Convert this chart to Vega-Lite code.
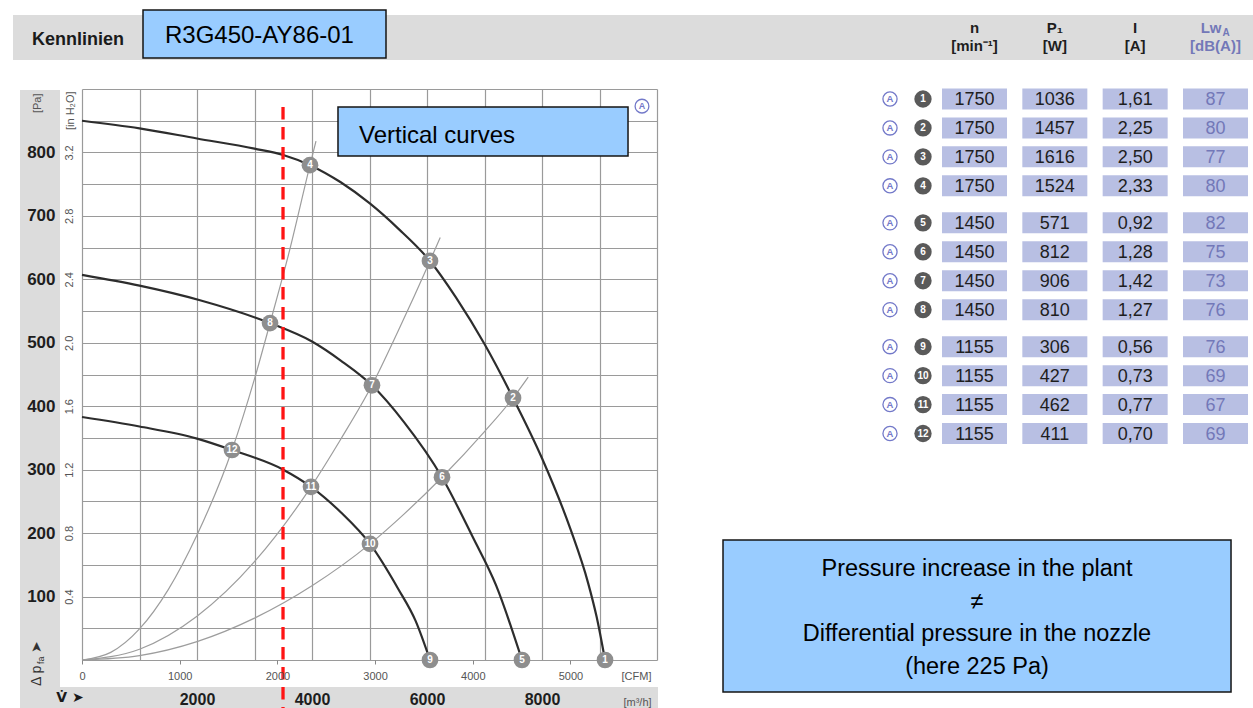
{
  "$schema": "https://vega.github.io/schema/vega-lite/v6.json",
  "width": 575,
  "height": 571,
  "autosize": {"type": "none"},
  "padding": {"left": 82, "top": 89, "right": 596, "bottom": 48},
  "background": "#ffffff",
  "config": {
    "view": {"stroke": null},
    "font": "Liberation Sans",
    "axis": {"labelFont": "Liberation Sans", "titleFont": "Liberation Sans", "labelFlush": false, "labelOverlap": false},
    "text": {"font": "Liberation Sans"}
  },
  "datasets": {
    "fan": [
      {"rpm": 1750, "q": 0, "pa": 850}, {"rpm": 1750, "q": 1000, "pa": 838}, {"rpm": 1750, "q": 2000, "pa": 822},
      {"rpm": 1750, "q": 3000, "pa": 806}, {"rpm": 1750, "q": 3500, "pa": 796}, {"rpm": 1750, "q": 3965, "pa": 780},
      {"rpm": 1750, "q": 4500, "pa": 753}, {"rpm": 1750, "q": 5000, "pa": 720}, {"rpm": 1750, "q": 5500, "pa": 680},
      {"rpm": 1750, "q": 6052, "pa": 629}, {"rpm": 1750, "q": 6500, "pa": 572}, {"rpm": 1750, "q": 7000, "pa": 498},
      {"rpm": 1750, "q": 7496, "pa": 413}, {"rpm": 1750, "q": 8000, "pa": 318}, {"rpm": 1750, "q": 8500, "pa": 205},
      {"rpm": 1750, "q": 8800, "pa": 122}, {"rpm": 1750, "q": 8950, "pa": 68}, {"rpm": 1750, "q": 9096, "pa": 0},
      {"rpm": 1450, "q": 0, "pa": 607}, {"rpm": 1450, "q": 1000, "pa": 590}, {"rpm": 1450, "q": 2052, "pa": 567},
      {"rpm": 1450, "q": 3270, "pa": 531}, {"rpm": 1450, "q": 4000, "pa": 502}, {"rpm": 1450, "q": 4500, "pa": 472},
      {"rpm": 1450, "q": 5043, "pa": 433}, {"rpm": 1450, "q": 5600, "pa": 375}, {"rpm": 1450, "q": 6261, "pa": 288},
      {"rpm": 1450, "q": 6800, "pa": 193}, {"rpm": 1450, "q": 7200, "pa": 118}, {"rpm": 1450, "q": 7652, "pa": 0},
      {"rpm": 1155, "q": 0, "pa": 383}, {"rpm": 1155, "q": 1000, "pa": 368}, {"rpm": 1155, "q": 2000, "pa": 349},
      {"rpm": 1155, "q": 2609, "pa": 331}, {"rpm": 1155, "q": 3500, "pa": 300}, {"rpm": 1155, "q": 3983, "pa": 273},
      {"rpm": 1155, "q": 4500, "pa": 233}, {"rpm": 1155, "q": 5009, "pa": 183}, {"rpm": 1155, "q": 5500, "pa": 112},
      {"rpm": 1155, "q": 5800, "pa": 62}, {"rpm": 1155, "q": 6052, "pa": 0}
    ],
    "system": [
      {"curve": "A", "q": 0, "pa": 0}, {"curve": "A", "q": 500, "pa": 12}, {"curve": "A", "q": 1000, "pa": 49},
      {"curve": "A", "q": 1500, "pa": 111}, {"curve": "A", "q": 2000, "pa": 197}, {"curve": "A", "q": 2609, "pa": 331},
      {"curve": "A", "q": 3000, "pa": 443}, {"curve": "A", "q": 3270, "pa": 531}, {"curve": "A", "q": 3600, "pa": 642},
      {"curve": "A", "q": 3965, "pa": 780}, {"curve": "A", "q": 4070, "pa": 818},
      {"curve": "B", "q": 0, "pa": 0}, {"curve": "B", "q": 1000, "pa": 17}, {"curve": "B", "q": 2000, "pa": 69},
      {"curve": "B", "q": 3000, "pa": 155}, {"curve": "B", "q": 3983, "pa": 273}, {"curve": "B", "q": 4500, "pa": 348},
      {"curve": "B", "q": 5043, "pa": 433}, {"curve": "B", "q": 5500, "pa": 519}, {"curve": "B", "q": 6052, "pa": 629},
      {"curve": "B", "q": 6230, "pa": 666},
      {"curve": "C", "q": 0, "pa": 0}, {"curve": "C", "q": 1000, "pa": 7}, {"curve": "C", "q": 2000, "pa": 29},
      {"curve": "C", "q": 3000, "pa": 66}, {"curve": "C", "q": 4000, "pa": 117}, {"curve": "C", "q": 5009, "pa": 183},
      {"curve": "C", "q": 5600, "pa": 230}, {"curve": "C", "q": 6261, "pa": 288}, {"curve": "C", "q": 7000, "pa": 360},
      {"curve": "C", "q": 7496, "pa": 413}, {"curve": "C", "q": 7760, "pa": 446}
    ],
    "points": [
      {"pt": 1, "q": 9096, "pa": 0}, {"pt": 2, "q": 7496, "pa": 413}, {"pt": 3, "q": 6052, "pa": 629},
      {"pt": 4, "q": 3965, "pa": 780}, {"pt": 5, "q": 7652, "pa": 0}, {"pt": 6, "q": 6261, "pa": 288},
      {"pt": 7, "q": 5043, "pa": 433}, {"pt": 8, "q": 3270, "pa": 531}, {"pt": 9, "q": 6052, "pa": 0},
      {"pt": 10, "q": 5009, "pa": 183}, {"pt": 11, "q": 3983, "pa": 273}, {"pt": 12, "q": 2609, "pa": 331}
    ],
    "table": [
      {"pt": 1, "grp": 1, "n": "1750", "P1": "1036", "I": "1,61", "LwA": "87"},
      {"pt": 2, "grp": 1, "n": "1750", "P1": "1457", "I": "2,25", "LwA": "80"},
      {"pt": 3, "grp": 1, "n": "1750", "P1": "1616", "I": "2,50", "LwA": "77"},
      {"pt": 4, "grp": 1, "n": "1750", "P1": "1524", "I": "2,33", "LwA": "80"},
      {"pt": 5, "grp": 2, "n": "1450", "P1": "571", "I": "0,92", "LwA": "82"},
      {"pt": 6, "grp": 2, "n": "1450", "P1": "812", "I": "1,28", "LwA": "75"},
      {"pt": 7, "grp": 2, "n": "1450", "P1": "906", "I": "1,42", "LwA": "73"},
      {"pt": 8, "grp": 2, "n": "1450", "P1": "810", "I": "1,27", "LwA": "76"},
      {"pt": 9, "grp": 3, "n": "1155", "P1": "306", "I": "0,56", "LwA": "76"},
      {"pt": 10, "grp": 3, "n": "1155", "P1": "427", "I": "0,73", "LwA": "69"},
      {"pt": 11, "grp": 3, "n": "1155", "P1": "462", "I": "0,77", "LwA": "67"},
      {"pt": 12, "grp": 3, "n": "1155", "P1": "411", "I": "0,70", "LwA": "69"}
    ],
    "cols": [
      {"key": "n", "l1": "n", "l2": "[min⁻¹]"},
      {"key": "P1", "l1": "P₁", "l2": "[W]"},
      {"key": "I", "l1": "I", "l2": "[A]"},
      {"key": "LwA", "l1": "Lw", "l2": "[dB(A)]"}
    ],
    "bands": [
      {"q": -1200, "q2": 20365, "pa": 945.8, "pa2": 1016.7},
      {"q": -1078, "q2": -383, "pa": -75.7, "pa2": 898.5},
      {"q": -1078, "q2": 10017, "pa": -75.7, "pa2": -42.6}
    ],
    "boxes": [
      {"q": 1061, "q2": 5287, "pa": 948.9, "pa2": 1024.6},
      {"q": 4452, "q2": 9496, "pa": 794.4, "pa2": 871.7},
      {"q": 11148, "q2": 19983, "pa": -50.4, "pa2": 189.2}
    ],
    "notes": [
      {"id": "kenn", "q": -870, "pa": 977.3, "label": "Kennlinien"},
      {"id": "model", "q": 1443, "pa": 983, "label": "R3G450-AY86-01"},
      {"id": "vert", "q": 4817, "pa": 826, "label": "Vertical curves"},
      {"id": "press", "q": 15565, "pa": 143.4, "label": "Pressure increase in the plant\n≠\nDifferential pressure in the nozzle\n(here 225 Pa)"},
      {"id": "dp", "q": -783, "pa": -41, "label": "Δ p"},
      {"id": "dpsub", "q": -783, "pa": -41, "label": "fa"},
      {"id": "dparrow", "q": -783, "pa": -41, "label": "➤"},
      {"id": "vdot", "q": -209, "pa": -60, "label": "V̇ ➤"},
      {"id": "circA", "q": 9739, "pa": 873, "label": "A"}
    ],
    "nozzle": [{"q": 3496, "pa": 871.7, "pa2": -76}]
  },
  "resolve": {
    "scale": {"x": "independent", "y": "independent"},
    "axis": {"x": "independent", "y": "independent"}
  },
  "layer": [
    {
      "encoding": {
        "x": {
          "field": "q", "type": "quantitative",
          "scale": {"domain": [0, 10000], "nice": false, "zero": false},
          "axis": {"orient": "bottom", "values": [0, 1000, 2000, 3000, 4000, 5000, 6000, 7000, 8000, 9000, 10000],
                   "grid": true, "gridColor": "#9a9a9a", "gridWidth": 1.2, "labels": false, "ticks": false,
                   "domain": false, "title": null, "zindex": 0}
        },
        "y": {
          "field": "pa", "type": "quantitative",
          "scale": {"domain": [0, 900], "nice": false, "zero": false},
          "axis": {"orient": "left", "values": [0, 50, 100, 150, 200, 250, 300, 350, 400, 450, 500, 550, 600, 650, 700, 750, 800, 850, 900],
                   "grid": true, "gridColor": "#9a9a9a", "gridWidth": 1.2, "labels": false, "ticks": false,
                   "domain": false, "title": null, "zindex": 0}
        }
      },
      "layer": [
        {"data": {"name": "bands"}, "mark": {"type": "rect", "fill": "#dcdcdc"},
         "encoding": {"x2": {"field": "q2"}, "y2": {"field": "pa2"}}},
        {"data": {"name": "system"}, "mark": {"type": "line", "stroke": "#9d9d9d", "strokeWidth": 1.2, "interpolate": "monotone"},
         "encoding": {"detail": {"field": "curve", "type": "nominal"}}},
        {"data": {"name": "fan"}, "mark": {"type": "line", "stroke": "#2d2d2d", "strokeWidth": 2.2, "interpolate": "monotone"},
         "encoding": {"detail": {"field": "rpm", "type": "nominal"}}},
        {"data": {"name": "points"}, "mark": {"type": "point", "shape": "circle", "filled": true, "fill": "#8e8e8e", "size": 280, "opacity": 1, "strokeWidth": 0}},
        {"data": {"name": "points"}, "mark": {"type": "text", "fill": "#ffffff", "fontWeight": "bold", "fontSize": 10, "align": "center", "baseline": "middle"},
         "encoding": {"text": {"field": "pt", "type": "nominal"}}},
        {"data": {"name": "boxes"}, "mark": {"type": "rect", "fill": "#99ccff", "stroke": "#141414", "strokeWidth": 1.5},
         "encoding": {"x2": {"field": "q2"}, "y2": {"field": "pa2"}}},
        {"data": {"name": "notes"}, "transform": [{"filter": "datum.id === 'kenn'"}],
         "mark": {"type": "text", "fontWeight": "bold", "fontSize": 18, "align": "left", "baseline": "middle", "fill": "#1a1a1a"},
         "encoding": {"text": {"field": "label", "type": "nominal"}}},
        {"data": {"name": "notes"}, "transform": [{"filter": "datum.id === 'model' || datum.id === 'vert'"}],
         "mark": {"type": "text", "fontSize": 24, "align": "left", "baseline": "middle", "fill": "#000000"},
         "encoding": {"text": {"field": "label", "type": "nominal"}}},
        {"data": {"name": "notes"}, "transform": [{"filter": "datum.id === 'press'"}],
         "mark": {"type": "text", "fontSize": 23.5, "align": "center", "baseline": "middle", "lineBreak": "\n", "lineHeight": 32.5, "fill": "#000000"},
         "encoding": {"text": {"field": "label", "type": "nominal"}}},
        {"data": {"name": "notes"}, "transform": [{"filter": "datum.id === 'dp'"}],
         "mark": {"type": "text", "fontSize": 14, "angle": 270, "align": "left", "baseline": "middle", "fill": "#333333"},
         "encoding": {"text": {"field": "label", "type": "nominal"}}},
        {"data": {"name": "notes"}, "transform": [{"filter": "datum.id === 'dpsub'"}],
         "mark": {"type": "text", "fontSize": 9, "angle": 270, "align": "left", "baseline": "middle", "dx": 22, "dy": 4, "fill": "#333333"},
         "encoding": {"text": {"field": "label", "type": "nominal"}}},
        {"data": {"name": "notes"}, "transform": [{"filter": "datum.id === 'dparrow'"}],
         "mark": {"type": "text", "fontSize": 14, "angle": 270, "align": "left", "baseline": "middle", "dx": 33, "fill": "#333333", "font": "DejaVu Sans"},
         "encoding": {"text": {"field": "label", "type": "nominal"}}},
        {"data": {"name": "notes"}, "transform": [{"filter": "datum.id === 'vdot'"}],
         "mark": {"type": "text", "fontSize": 14, "fontWeight": "bold", "align": "center", "baseline": "middle", "fill": "#1a1a1a", "font": "DejaVu Sans"},
         "encoding": {"text": {"field": "label", "type": "nominal"}}},
        {"data": {"name": "notes"}, "transform": [{"filter": "datum.id === 'circA'"}],
         "mark": {"type": "point", "shape": "circle", "filled": false, "stroke": "#7379c9", "strokeWidth": 1.3, "size": 190, "opacity": 1}},
        {"data": {"name": "notes"}, "transform": [{"filter": "datum.id === 'circA'"}],
         "mark": {"type": "text", "fontSize": 9, "fontWeight": "bold", "align": "center", "baseline": "middle", "fill": "#7379c9"},
         "encoding": {"text": {"field": "label", "type": "nominal"}}},
        {"data": {"name": "nozzle"}, "mark": {"type": "rule", "stroke": "#ff1414", "strokeWidth": 3.3, "strokeDash": [12.5, 7.5]},
         "encoding": {"y2": {"field": "pa2"}}}
      ]
    },
    {
      "data": {"values": [{"q": 0, "pa": 0}]},
      "mark": {"type": "point", "opacity": 0},
      "encoding": {
        "x": {
          "field": "q", "type": "quantitative",
          "scale": {"domain": [0, 10000], "nice": false, "zero": false},
          "axis": {"orient": "bottom", "values": [2000, 4000, 6000, 8000], "format": "d", "grid": false, "ticks": false, "domain": false,
                   "labelFontSize": 16, "labelFontWeight": "bold", "labelColor": "#1e1e1e", "labelPadding": 31, "zindex": 1,
                   "title": "[m³/h]", "titleX": 555, "titleY": 42, "titleFontSize": 11, "titleFontWeight": "normal",
                   "titleColor": "#555555", "titleAlign": "center", "titleBaseline": "middle"}
        },
        "y": {
          "field": "pa", "type": "quantitative",
          "scale": {"domain": [0, 900], "nice": false, "zero": false},
          "axis": {"orient": "left", "values": [100, 200, 300, 400, 500, 600, 700, 800], "format": "d", "grid": false, "ticks": false, "domain": false,
                   "labelFontSize": 17, "labelFontWeight": "bold", "labelColor": "#1e1e1e", "labelPadding": 27, "zindex": 1,
                   "title": "[Pa]", "titleAngle": 270, "titleX": -45, "titleY": 4, "titleAlign": "right", "titleBaseline": "middle",
                   "titleFontSize": 11, "titleFontWeight": "normal", "titleColor": "#555555"}
        }
      }
    },
    {
      "data": {"values": [{"cfm": 0, "h2o": 0}]},
      "mark": {"type": "point", "opacity": 0},
      "encoding": {
        "x": {
          "field": "cfm", "type": "quantitative",
          "scale": {"domain": [0, 5886], "nice": false, "zero": false},
          "axis": {"orient": "bottom", "values": [0, 1000, 2000, 3000, 4000, 5000], "format": "d", "grid": false, "domain": false,
                   "ticks": true, "tickSize": 4, "tickColor": "#888888", "labelFontSize": 11, "labelColor": "#555555", "labelPadding": 6, "zindex": 1,
                   "title": "[CFM]", "titleX": 554, "titleY": 16, "titleFontSize": 11, "titleFontWeight": "normal",
                   "titleColor": "#555555", "titleAlign": "center", "titleBaseline": "middle"}
        },
        "y": {
          "field": "h2o", "type": "quantitative",
          "scale": {"domain": [0, 3.6], "nice": false, "zero": false},
          "axis": {"orient": "left", "values": [0.4, 0.8, 1.2, 1.6, 2.0, 2.4, 2.8, 3.2], "format": ".1f", "grid": false, "ticks": false, "domain": false,
                   "labelAngle": 270, "labelAlign": "center", "labelBaseline": "bottom", "labelPadding": 8,
                   "labelFontSize": 11, "labelColor": "#555555", "zindex": 1,
                   "title": "[in H₂O]", "titleAngle": 270, "titleX": -12, "titleY": 2, "titleAlign": "right", "titleBaseline": "middle",
                   "titleFontSize": 11, "titleFontWeight": "normal", "titleColor": "#555555"}
        }
      }
    },
    {
      "layer": [
        {
          "data": {"name": "table"},
          "transform": [{"calculate": "datum.pt + (datum.grp - 1) * 0.28", "as": "slot"}, {"fold": ["n", "P1", "I", "LwA"], "as": ["key", "value"]}],
          "mark": {"type": "rect", "width": 65, "height": 21, "fill": "#b8bfe3"},
          "encoding": {
            "x": {"field": "key", "type": "nominal", "scale": {"type": "point", "domain": ["n", "P1", "I", "LwA"], "range": [892.5, 1133.5], "padding": 0}, "axis": null},
            "y": {"field": "slot", "type": "quantitative", "scale": {"domain": [1, 12.56], "range": [10, 344.5], "nice": false, "zero": false}, "axis": null}
          }
        },
        {
          "data": {"name": "table"},
          "transform": [{"calculate": "datum.pt + (datum.grp - 1) * 0.28", "as": "slot"}, {"fold": ["n", "P1", "I", "LwA"], "as": ["key", "value"]}],
          "mark": {"type": "text", "fontSize": 18, "align": "center", "baseline": "middle", "dy": 1},
          "encoding": {
            "x": {"field": "key", "type": "nominal", "scale": {"type": "point", "domain": ["n", "P1", "I", "LwA"], "range": [892.5, 1133.5], "padding": 0}, "axis": null},
            "y": {"field": "slot", "type": "quantitative", "scale": {"domain": [1, 12.56], "range": [10, 344.5], "nice": false, "zero": false}, "axis": null},
            "text": {"field": "value", "type": "nominal"},
            "color": {"condition": {"test": "datum.key === 'LwA'", "value": "#7378b8"}, "value": "#1e1e1e"}
          }
        },
        {
          "data": {"name": "table"},
          "transform": [{"calculate": "datum.pt + (datum.grp - 1) * 0.28", "as": "slot"}],
          "mark": {"type": "point", "shape": "circle", "filled": true, "fill": "#5a5a5a", "size": 300, "opacity": 1, "strokeWidth": 0, "xOffset": -51.5},
          "encoding": {
            "x": {"datum": "n", "type": "nominal", "scale": {"type": "point", "domain": ["n", "P1", "I", "LwA"], "range": [892.5, 1133.5], "padding": 0}, "axis": null},
            "y": {"field": "slot", "type": "quantitative", "scale": {"domain": [1, 12.56], "range": [10, 344.5], "nice": false, "zero": false}, "axis": null}
          }
        },
        {
          "data": {"name": "table"},
          "transform": [{"calculate": "datum.pt + (datum.grp - 1) * 0.28", "as": "slot"}],
          "mark": {"type": "text", "fontSize": 10, "fontWeight": "bold", "fill": "#ffffff", "align": "center", "baseline": "middle", "xOffset": -51.5},
          "encoding": {
            "x": {"datum": "n", "type": "nominal", "scale": {"type": "point", "domain": ["n", "P1", "I", "LwA"], "range": [892.5, 1133.5], "padding": 0}, "axis": null},
            "y": {"field": "slot", "type": "quantitative", "scale": {"domain": [1, 12.56], "range": [10, 344.5], "nice": false, "zero": false}, "axis": null},
            "text": {"field": "pt", "type": "nominal"}
          }
        },
        {
          "data": {"name": "table"},
          "transform": [{"calculate": "datum.pt + (datum.grp - 1) * 0.28", "as": "slot"}],
          "mark": {"type": "point", "shape": "circle", "filled": false, "stroke": "#7379c9", "strokeWidth": 1.3, "size": 200, "opacity": 1, "xOffset": -84.5},
          "encoding": {
            "x": {"datum": "n", "type": "nominal", "scale": {"type": "point", "domain": ["n", "P1", "I", "LwA"], "range": [892.5, 1133.5], "padding": 0}, "axis": null},
            "y": {"field": "slot", "type": "quantitative", "scale": {"domain": [1, 12.56], "range": [10, 344.5], "nice": false, "zero": false}, "axis": null}
          }
        },
        {
          "data": {"name": "table"},
          "transform": [{"calculate": "datum.pt + (datum.grp - 1) * 0.28", "as": "slot"}],
          "mark": {"type": "text", "text": "A", "fontSize": 9.5, "fontWeight": "bold", "fill": "#7379c9", "align": "center", "baseline": "middle", "xOffset": -84.5},
          "encoding": {
            "x": {"datum": "n", "type": "nominal", "scale": {"type": "point", "domain": ["n", "P1", "I", "LwA"], "range": [892.5, 1133.5], "padding": 0}, "axis": null},
            "y": {"field": "slot", "type": "quantitative", "scale": {"domain": [1, 12.56], "range": [10, 344.5], "nice": false, "zero": false}, "axis": null}
          }
        },
        {
          "data": {"name": "cols"},
          "transform": [{"filter": "datum.key !== 'LwA'"}],
          "mark": {"type": "text", "fontSize": 15, "fontWeight": "bold", "align": "center", "baseline": "middle", "fill": "#1e1e1e"},
          "encoding": {
            "x": {"field": "key", "type": "nominal", "scale": {"type": "point", "domain": ["n", "P1", "I", "LwA"], "range": [892.5, 1133.5], "padding": 0}, "axis": null},
            "y": {"datum": -1.45, "type": "quantitative", "scale": {"domain": [1, 12.56], "range": [10, 344.5], "nice": false, "zero": false}, "axis": null},
            "text": {"field": "l1", "type": "nominal"}
          }
        },
        {
          "data": {"name": "cols"},
          "transform": [{"filter": "datum.key === 'LwA'"}],
          "mark": {"type": "text", "fontSize": 15, "fontWeight": "bold", "align": "right", "baseline": "middle", "dx": 6, "fill": "#7378b8"},
          "encoding": {
            "x": {"field": "key", "type": "nominal", "scale": {"type": "point", "domain": ["n", "P1", "I", "LwA"], "range": [892.5, 1133.5], "padding": 0}, "axis": null},
            "y": {"datum": -1.45, "type": "quantitative", "scale": {"domain": [1, 12.56], "range": [10, 344.5], "nice": false, "zero": false}, "axis": null},
            "text": {"field": "l1", "type": "nominal"}
          }
        },
        {
          "data": {"name": "cols"},
          "transform": [{"filter": "datum.key === 'LwA'"}],
          "mark": {"type": "text", "text": "A", "fontSize": 10, "fontWeight": "bold", "align": "left", "baseline": "middle", "dx": 7, "dy": 5, "fill": "#7378b8"},
          "encoding": {
            "x": {"field": "key", "type": "nominal", "scale": {"type": "point", "domain": ["n", "P1", "I", "LwA"], "range": [892.5, 1133.5], "padding": 0}, "axis": null},
            "y": {"datum": -1.45, "type": "quantitative", "scale": {"domain": [1, 12.56], "range": [10, 344.5], "nice": false, "zero": false}, "axis": null}
          }
        },
        {
          "data": {"name": "cols"},
          "mark": {"type": "text", "fontSize": 15, "fontWeight": "bold", "align": "center", "baseline": "middle"},
          "encoding": {
            "x": {"field": "key", "type": "nominal", "scale": {"type": "point", "domain": ["n", "P1", "I", "LwA"], "range": [892.5, 1133.5], "padding": 0}, "axis": null},
            "y": {"datum": -0.83, "type": "quantitative", "scale": {"domain": [1, 12.56], "range": [10, 344.5], "nice": false, "zero": false}, "axis": null},
            "text": {"field": "l2", "type": "nominal"},
            "color": {"condition": {"test": "datum.key === 'LwA'", "value": "#7378b8"}, "value": "#1e1e1e"}
          }
        }
      ]
    }
  ]
}
